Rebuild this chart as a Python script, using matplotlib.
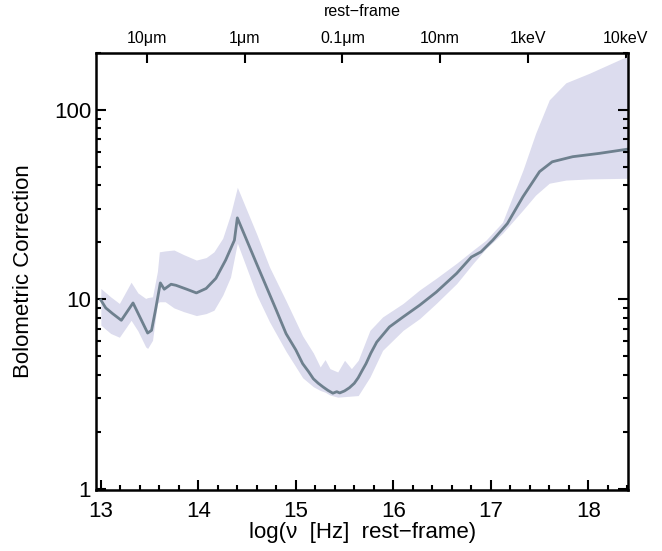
import matplotlib

matplotlib.use("Agg")
import matplotlib.pyplot as plt
from matplotlib.ticker import FixedLocator, LogLocator, MultipleLocator, NullFormatter

plt.rcParams["font.family"] = ["Liberation Sans", "DejaVu Sans"]

# median bolometric correction vs rest-frame frequency
curve_logv = [13.00, 13.05, 13.12, 13.21, 13.27, 13.33, 13.40, 13.48, 13.52, 13.56,
              13.61, 13.65, 13.72, 13.77, 13.88, 13.98, 14.08, 14.18, 14.28, 14.37,
              14.40, 14.60, 14.80, 14.90, 15.00, 15.07, 15.13, 15.18, 15.23, 15.28,
              15.33, 15.38, 15.42, 15.45, 15.50, 15.55, 15.60, 15.64, 15.68, 15.72,
              15.77, 15.83, 15.96, 16.10, 16.27, 16.44, 16.65, 16.80, 16.90, 17.02,
              17.17, 17.33, 17.50, 17.63, 17.84, 18.11, 18.40]
curve_bc = [9.9, 9.0, 8.4, 7.74, 8.6, 9.56, 8.06, 6.63, 6.85, 8.75,
            12.2, 11.3, 12.0, 11.85, 11.3, 10.8, 11.4, 12.9, 16.1, 20.5,
            26.9, 15.3, 8.75, 6.58, 5.4, 4.57, 4.15, 3.80, 3.60, 3.44,
            3.30, 3.19, 3.25, 3.20, 3.28, 3.41, 3.60, 3.85, 4.20, 4.57,
            5.20, 5.94, 7.14, 8.06, 9.3, 10.9, 13.7, 16.7, 17.8, 20.5,
            25.1, 34.8, 47.2, 53.2, 56.6, 58.9, 62.0]

# spread of the bolometric correction
band_logv = [13.00, 13.10, 13.19, 13.31, 13.38, 13.46, 13.48, 13.53, 13.58, 13.60,
             13.66, 13.75, 13.85, 13.98, 14.08, 14.16, 14.25, 14.33, 14.40, 14.60,
             14.73, 14.90, 15.07, 15.18, 15.25, 15.30, 15.35, 15.43, 15.50, 15.57,
             15.64, 15.76, 15.89, 16.10, 16.27, 16.44, 16.65, 16.82, 16.95, 17.12,
             17.33, 17.46, 17.60, 17.77, 18.01, 18.36, 18.40]
band_low = [7.3, 6.6, 6.3, 7.74, 6.8, 5.6, 5.5, 6.07, 9.5, 9.7,
            9.7, 9.0, 8.6, 8.2, 8.4, 8.75, 10.5, 13.1, 19.8, 10.5,
            7.6, 5.3, 3.85, 3.45, 3.3, 3.23, 3.12, 3.04, 3.06, 3.08,
            3.10, 3.88, 5.37, 6.85, 7.9, 9.5, 12.1, 15.5, 18.5, 22.3,
            29.6, 35.5, 41.0, 42.6, 43.2, 43.5, 43.5]
band_high = [11.4, 10.3, 9.5, 12.3, 10.8, 10.1, 10.2, 10.3, 14.0, 17.8,
             18.0, 18.2, 17.2, 16.1, 16.6, 17.8, 21.0, 28.0, 39.0, 22.0,
             14.8, 9.8, 6.4, 5.2, 4.39, 4.80, 4.30, 4.13, 4.76, 4.30,
             4.76, 6.85, 8.06, 9.5, 11.2, 12.9, 15.5, 18.2, 20.5, 25.5,
             48.1, 75.2, 113.0, 139.0, 156.0, 188.0, 190.0]

top_ticks = [13.477, 14.477, 15.477, 16.477, 17.383, 18.383]
top_labels = ["10\u03bcm", "1\u03bcm", "0.1\u03bcm", "10nm", "1keV", "10keV"]

fig = plt.figure(figsize=(6.62, 5.51), dpi=100)
ax = fig.add_axes([0.145, 0.111, 0.804, 0.793])

ax.fill_between(band_logv, band_low, band_high, color="#dcdcee", linewidth=0)
ax.plot(curve_logv, curve_bc, color="#6e808e", linewidth=2.0)

ax.set_yscale("log")
ax.set_xlim(12.95, 18.41)
ax.set_ylim(0.985, 200)

ax.xaxis.set_major_locator(MultipleLocator(1))
ax.xaxis.set_minor_locator(MultipleLocator(0.2))
ax.yaxis.set_major_locator(FixedLocator([1, 10, 100]))
ax.set_yticklabels(["1", "10", "100"])
ax.yaxis.set_minor_locator(LogLocator(base=10, subs=range(2, 10)))
ax.yaxis.set_minor_formatter(NullFormatter())

ax.tick_params(which="both", direction="in", right=True, top=False, width=1.5, labelsize=16)
ax.tick_params(which="major", length=7)
ax.tick_params(which="minor", length=3.5)
ax.tick_params(axis="x", pad=8)
for spine in ax.spines.values():
    spine.set_linewidth(1.8)

ax.set_xlabel("log(\u03bd  [Hz]  rest\u2212frame)", fontsize=16, labelpad=0)
ax.set_ylabel("Bolometric Correction", fontsize=16, labelpad=14)

top = ax.secondary_xaxis("top")
top.set_xticks(top_ticks)
top.set_xticklabels(top_labels)
top.tick_params(direction="in", length=7, width=1.5, labelsize=11.5, pad=5)
top.xaxis.set_minor_locator(FixedLocator([]))
top.set_xlabel("rest\u2212frame", fontsize=11.5, labelpad=11)

fig.savefig("out.png", dpi=100)
